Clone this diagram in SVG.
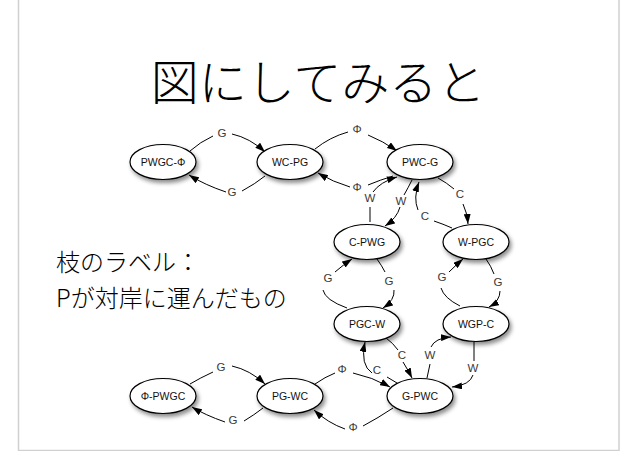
<svg xmlns="http://www.w3.org/2000/svg" width="638" height="451" viewBox="0 0 638 451">
<style>
.nd ellipse{fill:#fff;stroke:#000;stroke-width:1.2;filter:url(#sh)}
.nd text{font-family:"Liberation Sans",Arial,sans-serif;font-size:10.5px;fill:#111;text-anchor:middle}
.lb{font-family:"Liberation Sans",Arial,sans-serif;font-size:11.5px;fill:#3a3a3a;text-anchor:middle}
.e path{fill:none;stroke:#000;stroke-width:1}
.e path.a{marker-end:url(#ah)}
.jp{font-family:"Noto Sans CJK JP",sans-serif;fill:#000;font-weight:300}
</style>
<defs>
<filter id="sh" x="-30%" y="-30%" width="170%" height="190%">
<feDropShadow dx="2" dy="3" stdDeviation="2" flood-color="#000" flood-opacity="0.45"/>
</filter>
<marker id="ah" viewBox="0 0 10 7" refX="10" refY="3.5" markerWidth="10" markerHeight="7" markerUnits="userSpaceOnUse" orient="auto">
<path d="M0,0 L10,3.5 L0,7 z" fill="#000"/>
</marker>
</defs>
<rect x="0" y="0" width="638" height="451" fill="#fff"/>
<rect x="18.5" y="-5" width="600.5" height="455.5" fill="none" stroke="#d0d0d0" stroke-width="1.5"/>
<text class="jp" x="318" y="100" font-size="48" text-anchor="middle">図にしてみると</text>
<text class="jp" x="56" y="271" font-size="24">枝のラベル：</text>
<text class="jp" x="56" y="307" font-size="24">Pが対岸に運んだもの</text>
<g id="connectors" class="e">
<path d="M190,151 Q200,142 213,136"/><path class="a" d="M232,134 Q250,138 265,152"/>
<path d="M265,176 Q255,184 242,191"/><path class="a" d="M226,192 Q205,185 189,175"/>
<path d="M315,149 Q330,137 348,132"/><path class="a" d="M368,135 Q383,141 397,151"/>
<path d="M393,176 Q380,180 368,185"/><path class="a" d="M350,187 Q333,182 318,173"/>
<path d="M370,222 L370,207"/><path class="a" d="M373,192 Q380,182 397,177"/>
<path d="M412,180 Q408,188 404,195"/><path class="a" d="M400,207 Q397,218 385,226"/>
<path d="M438,178 Q447,183 454,189"/><path class="a" d="M463,204 Q467,212 468,224"/>
<path d="M452,228 Q443,224 434,221"/><path class="a" d="M418,210 Q413,198 419,182"/>
<path d="M347,308 Q325,300 323,290"/><path class="a" d="M335,272 Q343,265 352,259"/>
<path d="M377,259 Q382,266 385,272"/><path class="a" d="M394,290 Q395,300 383,308"/>
<path d="M460,306 Q444,298 441,288"/><path class="a" d="M449,272 Q456,265 463,259"/>
<path d="M486,259 Q491,266 494,274"/><path class="a" d="M500,291 Q500,301 489,307"/>
<path d="M397,383 Q392,380 387,377"/><path class="a" d="M372,373 Q360,365 365,342"/>
<path d="M386,338 Q393,343 398,350"/><path class="a" d="M403,362 Q408,370 412,378"/>
<path d="M427,378 L430,364"/><path class="a" d="M431,347 Q435,338 451,337"/>
<path d="M474,342 L474,361"/><path class="a" d="M473,375 Q470,385 452,387"/>
<path d="M315,384 Q325,377 335,373"/><path class="a" d="M353,373 Q372,377 390,387"/>
<path d="M393,408 Q378,418 363,426"/><path class="a" d="M345,429 Q328,423 314,410"/>
<path d="M190,384 Q200,378 213,372"/><path class="a" d="M232,366 Q250,370 265,384"/>
<path d="M263,408 Q254,415 244,421"/><path class="a" d="M225,422 Q205,415 192,407"/>
</g>
<g id="edge-labels">
<text class="lb" x="222" y="137">G</text>
<text class="lb" x="232" y="196">G</text>
<text class="lb" x="357" y="133">Φ</text>
<text class="lb" x="357" y="191">Φ</text>
<text class="lb" x="370" y="202">W</text>
<text class="lb" x="401" y="205">W</text>
<text class="lb" x="460" y="198">C</text>
<text class="lb" x="425" y="220">C</text>
<text class="lb" x="328" y="282">G</text>
<text class="lb" x="389" y="285">G</text>
<text class="lb" x="442" y="281">G</text>
<text class="lb" x="498" y="286">G</text>
<text class="lb" x="402" y="359">C</text>
<text class="lb" x="430" y="359">W</text>
<text class="lb" x="473" y="372">W</text>
<text class="lb" x="342" y="373">Φ</text>
<text class="lb" x="377" y="374">C</text>
<text class="lb" x="353" y="431">Φ</text>
<text class="lb" x="221" y="371">G</text>
<text class="lb" x="233" y="424">G</text>
</g>
<g id="n-PWGC-Phi" class="nd"><ellipse cx="163" cy="162" rx="33" ry="17.5"/><text x="163" y="166">PWGC-Φ</text></g>
<g id="n-WC-PG" class="nd"><ellipse cx="290" cy="162" rx="33" ry="17.5"/><text x="290" y="166">WC-PG</text></g>
<g id="n-PWC-G" class="nd"><ellipse cx="420" cy="162" rx="33" ry="17.5"/><text x="420" y="166">PWC-G</text></g>
<g id="n-C-PWG" class="nd"><ellipse cx="367" cy="242" rx="33" ry="17.5"/><text x="367" y="246">C-PWG</text></g>
<g id="n-W-PGC" class="nd"><ellipse cx="476" cy="242" rx="33" ry="17.5"/><text x="476" y="246">W-PGC</text></g>
<g id="n-PGC-W" class="nd"><ellipse cx="367" cy="324" rx="33" ry="17.5"/><text x="367" y="328">PGC-W</text></g>
<g id="n-WGP-C" class="nd"><ellipse cx="476" cy="324" rx="33" ry="17.5"/><text x="476" y="328">WGP-C</text></g>
<g id="n-G-PWC" class="nd"><ellipse cx="420" cy="396" rx="33" ry="17.5"/><text x="420" y="400">G-PWC</text></g>
<g id="n-Phi-PWGC" class="nd"><ellipse cx="163" cy="396" rx="33" ry="17.5"/><text x="163" y="400">Φ-PWGC</text></g>
<g id="n-PG-WC" class="nd"><ellipse cx="290" cy="396" rx="33" ry="17.5"/><text x="290" y="400">PG-WC</text></g>
</svg>
